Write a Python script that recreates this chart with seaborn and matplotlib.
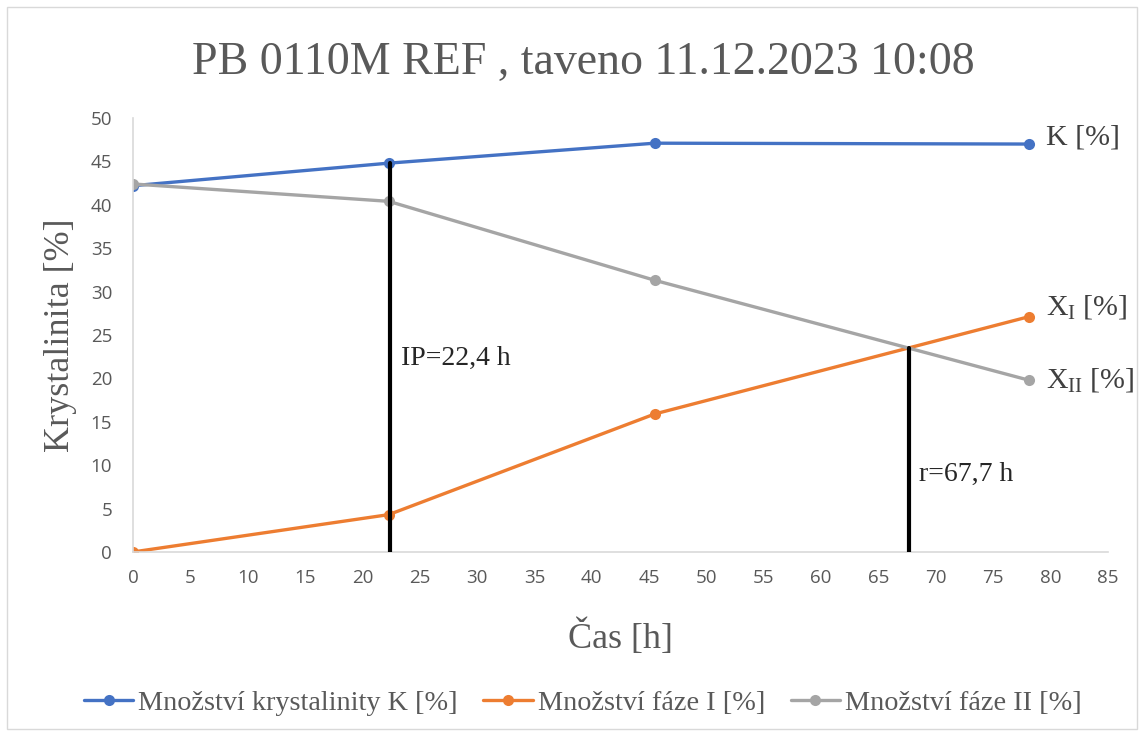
import matplotlib
matplotlib.use("Agg")
import matplotlib.pyplot as plt
import pandas as pd
import seaborn as sns

cas = [0, 22.3, 45.5, 78.1]
krystalinita = [42.2, 44.8, 47.1, 47.0]
faze_1 = [0.0, 4.3, 15.9, 27.1]
faze_2 = [42.4, 40.4, 31.3, 19.8]

series_names = ["Množství krystalinity K [%]", "Množství fáze I [%]", "Množství fáze II [%]"]
end_labels = ["K [%]", r"X$_{\mathrm{I}}$ [%]", r"X$_{\mathrm{II}}$ [%]"]
colors = ["#4472C4", "#ED7D31", "#A5A5A5"]

ip_x, ip_top = 22.4, 44.8
r_x, r_top = 67.7, 23.5

sns.set_theme(style="white")
plt.rcParams["font.family"] = ["Liberation Serif", "DejaVu Serif"]
plt.rcParams["mathtext.fontset"] = "custom"
plt.rcParams["mathtext.rm"] = "Liberation Serif"
plt.rcParams["mathtext.it"] = "Liberation Serif:italic"

rows = []
for name, vals in zip(series_names, [krystalinita, faze_1, faze_2]):
    for x, y in zip(cas, vals):
        rows.append({"cas": x, "hodnota": y, "serie": name})
df = pd.DataFrame(rows)

fig = plt.figure(figsize=(11.42, 7.33), dpi=100)
ax = fig.add_axes([0.1165, 0.247, 0.8535, 0.592])

sns.lineplot(data=df, x="cas", y="hodnota", hue="serie", palette=colors,
             marker="o", markersize=8, markeredgewidth=0, linewidth=2.4,
             ax=ax, legend=True)

# svisle cary
ax.plot([ip_x, ip_x], [0, ip_top], color="black", lw=3, zorder=5)
ax.plot([r_x, r_x], [0, r_top], color="black", lw=3, zorder=5)
ax.text(ip_x + 1.0, 22.35, "IP=22,4 h", fontsize=20, va="center", ha="left")
ax.text(r_x + 0.8, 8.9, "r=67,7 h", fontsize=20, va="center", ha="left")

# popisky na konci
end_y = [47.7, 28.2, 19.8]
for lab, yy in zip(end_labels, end_y):
    ax.text(cas[-1] + 1.5, yy, lab, fontsize=21.5, va="center", ha="left",
            color="#404040")

ax.set_xlim(0, 85)
ax.set_ylim(0, 50)
ax.set_xticks(range(0, 86, 5))
ax.set_yticks(range(0, 51, 5))
ax.tick_params(axis="both", length=0, labelsize=13.5, labelcolor="#595959")
ax.tick_params(axis="y", pad=15)
ax.tick_params(axis="x", pad=12)
for lbl in ax.get_xticklabels() + ax.get_yticklabels():
    lbl.set_family(["Open Sans", "DejaVu Sans"])

for s in ["top", "right"]:
    ax.spines[s].set_visible(False)
for s in ["left", "bottom"]:
    ax.spines[s].set_color("#D9D9D9")
    ax.spines[s].set_linewidth(1.2)

ax.set_xlabel("Čas [h]", fontsize=26, color="#595959", labelpad=24)
ax.set_ylabel("Krystalinita [%]", fontsize=26, color="#595959", labelpad=10)
fig.text(0.511, 0.914, "PB 0110M REF , taveno 11.12.2023 10:08", fontsize=33,
         color="#595959", ha="center", va="center")

leg = ax.legend(loc="center", bbox_to_anchor=(0.4615, -0.348), ncol=3,
                frameon=False, fontsize=20.3, handlelength=1.75, columnspacing=0.9,
                handletextpad=0.18)
for t in leg.get_texts():
    t.set_color("#595959")

fig.patches.append(plt.Rectangle((0.006, 0.005), 0.99, 0.985, transform=fig.transFigure,
                                 fill=False, edgecolor="#D9D9D9", lw=1))

fig.savefig("out.png", dpi=100)
